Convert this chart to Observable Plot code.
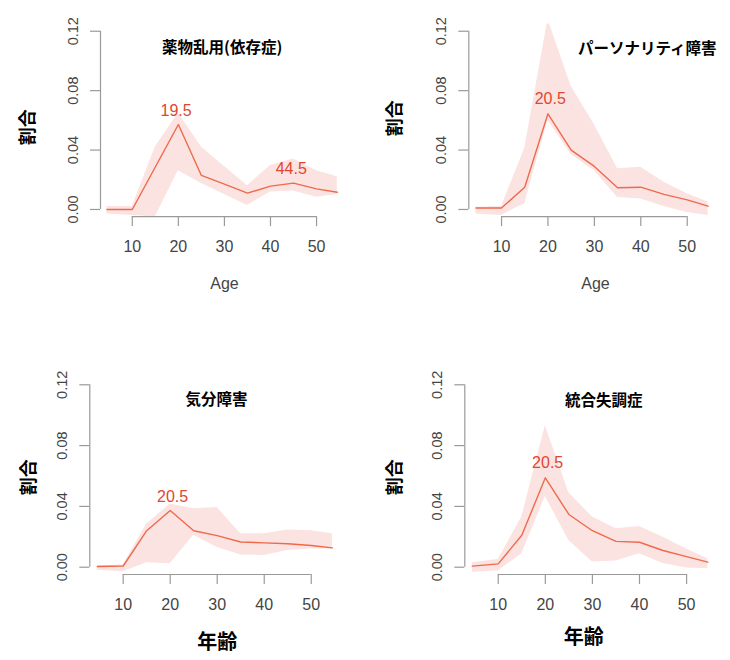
<!DOCTYPE html>
<html><head><meta charset="utf-8">
<script src="https://cdn.jsdelivr.net/npm/d3@7"></script>
<script src="https://cdn.jsdelivr.net/npm/@observablehq/plot@0.6"></script>
<style>
body{margin:0;background:#fff;}
#wrap{position:relative;width:730px;height:660px;background:#fff;}
#wrap svg{position:absolute;}
</style></head><body><div id="wrap"></div>
<script>
// ---- data ----
const ages = [4.5, 10, 15, 20, 25, 30, 35, 40, 45, 50, 54.5];
const yTicks = [0, 0.04, 0.08, 0.12];
const xTicks = [10, 20, 30, 40, 50];
const titles = ["薬物乱用(依存症)", "パーソナリティ障害", "気分障害", "統合失調症"];
const xLabels = ["Age", "Age", "年齢", "年齢"];
const yLabel = "割合";

const drugMean  = [0, 0, 0.0286, 0.0572, 0.0229, 0.0170, 0.0110, 0.0157, 0.0177, 0.0139, 0.0116];
const drugHi    = [0.002, 0.002, 0.042, 0.065, 0.042, 0.029, 0.016, 0.0296, 0.034, 0.026, 0.022];
const drugLo    = [-0.003, -0.004, -0.005, 0.026, 0.0175, 0.010, 0.0027, 0.0117, 0.0125, 0.0083, 0.010];
const drugPeakLabels = ["19.5", "44.5"];
const drugPeakAges   = [19.5, 44.5];
const drugPeakVals   = [0.0572, 0.0177];

const persMean = [0.001, 0.001, 0.015, 0.0644, 0.040, 0.029, 0.0146, 0.015, 0.0102, 0.0065, 0.0022];
const persHi   = [0.0015, 0.002, 0.041, 0.128, 0.083, 0.057, 0.0274, 0.0285, 0.0184, 0.0105, 0.005];
const persLo   = [-0.003, -0.004, 0.004, 0.060, 0.037, 0.026, 0.008, 0.007, 0.002, -0.002, -0.004];
const persPeakLabels = ["20.5"];
const persPeakAges   = [20.5];
const persPeakVals   = [0.0644];

const moodMean = [0.0005, 0.0008, 0.024, 0.0373, 0.024, 0.0208, 0.0166, 0.016, 0.0154, 0.0143, 0.0127];
const moodHi   = [0.001, 0.0015, 0.0285, 0.0415, 0.0385, 0.0392, 0.022, 0.022, 0.0245, 0.024, 0.022];
const moodLo   = [-0.002, -0.003, 0.003, 0.0022, 0.021, 0.013, 0.008, 0.0077, 0.011, 0.012, 0.012];
const moodPeakLabels = ["20.5"];
const moodPeakAges   = [20.5];
const moodPeakVals   = [0.0373];

const schMean = [0.0007, 0.0022, 0.021, 0.0588, 0.0347, 0.024, 0.017, 0.0164, 0.011, 0.007, 0.0033];
const schHi   = [0.003, 0.005, 0.033, 0.093, 0.049, 0.033, 0.0253, 0.0268, 0.0197, 0.012, 0.0055];
const schLo   = [-0.0033, -0.0025, 0.0088, 0.0465, 0.0175, 0.0035, 0.004, 0.0088, 0.0024, -0.0005, -0.001];
const schPeakLabels = ["20.5"];
const schPeakAges   = [20.5];
const schPeakVals   = [0.0588];

// ---- styling / layout ----
const BAND = "#fbe3e1", LINE = "#ef6a4d", LABEL = "#e0472f", AXIS = "#9a9a9a", TICKTXT = "#444";
const LATIN = "Liberation Sans, Arial, Helvetica, sans-serif";
const CJK = "Noto Sans CJK JP, sans-serif";
const yDomain = [-0.0048, 0.1248];

const panels = [
  {mean: drugMean, hi: drugHi, lo: drugLo, pl: drugPeakLabels, pa: drugPeakAges, pv: drugPeakVals,
   left: 0, top: 0, mL: 100, mR: 19, mT: 23.6, mB: 113.9, xDom: [3.1, 56.5],
   xl: [124, 67.2], yl: [-72, 6.8], tl: [121.7, 24.1], pdy: -14},
  {mean: persMean, hi: persHi, lo: persLo, pl: persPeakLabels, pa: persPeakAges, pv: persPeakVals,
   left: 365, top: 0, mL: 103.3, mR: 13.1, mT: 23.6, mB: 113.9, xDom: [2.95, 56.5],
   xl: [126.7, 67.2], yl: [-73.3, -2], tl: [178.4, 24.7], pdy: -15},
  {mean: moodMean, hi: moodHi, lo: moodLo, pl: moodPeakLabels, pa: moodPeakAges, pv: moodPeakVals,
   left: 0, top: 330, mL: 89.3, mR: 23.7, mT: 47, mB: 86, xDom: [2.9, 56.5],
   xl: [127.4, 67.7], yl: [-61, 1.2], tl: [126.7, 22.3], pdy: -14},
  {mean: schMean, hi: schHi, lo: schLo, pl: schPeakLabels, pa: schPeakAges, pv: schPeakVals,
   left: 365, top: 330, mL: 99.3, mR: 13.3, mT: 47, mB: 86, xDom: [2.9, 56.5],
   xl: [119, 62.7], yl: [-69.3, 1.2], tl: [139, 23.7], pdy: -14.6}
];

const wrap = document.getElementById("wrap");

panels.forEach((p, i) => {
  const rows = ages.map((a, j) => ({age: a, mean: p.mean[j], hi: p.hi[j], lo: p.lo[j]}));
  const peaks = p.pl.map((t, j) => ({label: t, age: p.pa[j], val: p.pv[j]}));
  const cjkX = xLabels[i] !== "Age";
  const svg = Plot.plot({
    width: 365, height: 330,
    marginLeft: p.mL, marginRight: p.mR, marginTop: p.mT, marginBottom: p.mB,
    x: {domain: p.xDom},
    y: {domain: yDomain},
    style: {fontFamily: LATIN, background: "transparent", overflow: "visible"},
    marks: [
      Plot.ruleX([p.xDom[0]], {y1: yTicks[0], y2: yTicks[yTicks.length - 1], stroke: AXIS, strokeWidth: 1.2}),
      Plot.ruleY([yDomain[0]], {x1: xTicks[0], x2: xTicks[xTicks.length - 1], stroke: AXIS, strokeWidth: 1.2}),
      Plot.axisY({ticks: yTicks, tickSize: 10, tickPadding: 13, tickRotate: -90,
        tickFormat: d3.format(".2f"), label: null, stroke: AXIS, color: TICKTXT, strokeWidth: 1.2, fontSize: 14.5}),
      Plot.axisX({ticks: xTicks, tickSize: 10, tickPadding: 14, tickFormat: d => String(d),
        label: null, stroke: AXIS, color: TICKTXT, strokeWidth: 1.2, fontSize: 16}),
      Plot.areaY(rows, {x: "age", y1: "lo", y2: "hi", fill: BAND, clip: true}),
      Plot.lineY(rows, {x: "age", y: "mean", stroke: LINE, strokeWidth: 1.4, clip: true}),
      Plot.text(peaks, {x: "age", y: "val", text: "label", dy: p.pdy, fill: LABEL, fontSize: 16,
        lineAnchor: "middle", fontFamily: LATIN}),
      Plot.text([titles[i]], {text: d => d, frameAnchor: "top-left", dx: p.tl[0], dy: p.tl[1],
        textAnchor: "middle", lineAnchor: "middle", fontWeight: "bold", fontSize: 15.5, fontFamily: CJK, fill: "#000"}),
      Plot.text([xLabels[i]], {text: d => d, frameAnchor: "bottom-left", dx: p.xl[0], dy: p.xl[1],
        textAnchor: "middle", lineAnchor: "middle",
        fontWeight: cjkX ? "bold" : "normal", fontSize: cjkX ? 20 : 16,
        fontFamily: cjkX ? CJK : LATIN, fill: cjkX ? "#000" : TICKTXT}),
      Plot.text([yLabel], {text: d => d, frameAnchor: "left", dx: p.yl[0], dy: p.yl[1], rotate: -90,
        textAnchor: "middle", lineAnchor: "middle", fontWeight: "bold", fontSize: 18, fontFamily: CJK, fill: "#000"})
    ]
  });
  svg.style.left = p.left + "px";
  svg.style.top = p.top + "px";
  wrap.appendChild(svg);
});
</script></body></html>
